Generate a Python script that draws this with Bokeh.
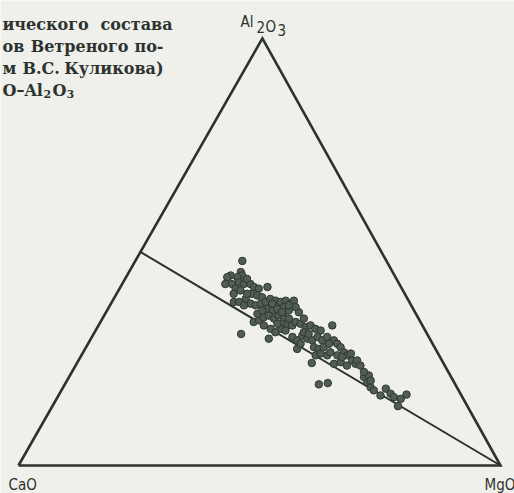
from bokeh.plotting import figure
from bokeh.models import Label, Range1d, ColumnDataSource
from bokeh.embed import file_html
from bokeh.resources import INLINE

# Rock compositions, wt.% (CaO + MgO + Al2O3 = 100)
al2o3 = [47.9, 45.3, 44.5, 44.1, 44.5, 44.1, 42.5, 42.5, 42.9, 42.5,
         41.4, 41.0, 38.3, 38.3, 39.0, 42.5, 41.8, 41.4, 41.8, 40.2,
         39.8, 39.4, 40.2, 37.9, 37.5, 37.9, 38.3, 39.0, 38.6, 38.3,
         38.6, 37.9, 38.6, 35.9, 37.1, 36.7, 36.3, 36.7, 37.1, 36.3,
         33.6, 34.0, 34.7, 35.1, 34.4, 35.1, 34.7, 34.4, 33.2, 32.8,
         32.0, 31.6, 32.8, 33.6, 33.2, 32.4, 32.8, 32.0, 31.6, 30.1,
         29.3, 27.3, 30.4, 29.7, 29.3, 30.1, 29.3, 27.7, 27.3, 27.7,
         25.8, 32.8, 29.3, 28.5, 27.7, 26.5, 25.8, 26.2, 24.6, 23.8,
         24.6, 23.4, 23.8, 24.2, 23.4, 30.8, 29.7, 24.0, 19.0, 19.3,
         20.7, 21.1, 19.5, 18.3, 17.6, 16.4, 18.0, 16.8, 16.0, 15.6,
         16.6, 13.9, 32.0, 31.2, 32.8, 35.5, 36.3, 43.7, 40.2, 37.5,
         37.9, 35.9, 33.2, 31.2, 30.8, 30.1, 28.5, 26.5, 25.8, 25.4,
         21.9, 19.9, 37.5, 34.4, 28.5, 25.8, 26.2]
mgo = [22.2, 23.2, 23.9, 23.1, 21.5, 21.0, 21.4, 22.8, 24.0, 25.2,
       24.1, 25.3, 25.3, 26.4, 27.4, 26.6, 27.7, 28.9, 30.5, 28.1,
       29.4, 30.6, 27.1, 29.0, 30.2, 31.1, 31.9, 32.5, 33.8, 35.0,
       35.9, 37.3, 37.6, 40.0, 38.7, 33.0, 34.3, 35.1, 36.3, 37.7,
       31.8, 32.7, 33.3, 34.2, 35.6, 36.2, 37.5, 38.7, 37.9, 39.2,
       38.2, 39.4, 40.2, 40.5, 41.7, 43.2, 44.0, 45.4, 46.7, 41.6,
       43.0, 44.0, 43.5, 44.9, 46.1, 46.8, 48.2, 47.3, 48.5, 49.3,
       51.0, 48.5, 50.6, 51.7, 52.8, 54.1, 55.2, 55.7, 56.8, 57.9,
       57.8, 59.1, 53.4, 54.6, 56.3, 30.6, 36.9, 48.7, 52.7, 54.4,
       61.2, 62.0, 62.5, 63.8, 64.8, 66.8, 67.1, 68.7, 69.8, 71.4,
       72.1, 71.7, 36.1, 37.5, 34.3, 31.6, 32.2, 25.3, 24.3, 27.8,
       33.5, 36.5, 36.9, 43.4, 44.6, 48.8, 50.0, 51.3, 53.1, 54.3,
       60.6, 63.0, 37.1, 41.8, 44.1, 48.6, 49.4]
cao = [29.9, 31.5, 31.6, 32.8, 34.0, 34.9, 36.1, 34.7, 33.1, 32.3,
       34.5, 33.7, 36.4, 35.3, 33.6, 30.9, 30.5, 29.7, 27.7, 31.7,
       30.8, 30.0, 32.7, 33.1, 32.3, 31.0, 29.8, 28.5, 27.6, 26.7,
       25.5, 24.8, 23.8, 24.1, 24.2, 30.3, 29.4, 28.2, 26.6, 26.0,
       34.6, 33.3, 32.0, 30.7, 30.0, 28.7, 27.8, 26.9, 28.9, 28.0,
       29.8, 29.0, 27.0, 25.9, 25.1, 24.4, 23.2, 22.6, 21.7, 28.3,
       27.7, 28.7, 26.1, 25.4, 24.6, 23.1, 22.5, 25.0, 24.2, 23.0,
       23.2, 18.7, 20.1, 19.8, 19.5, 19.4, 19.0, 18.1, 18.6, 18.3,
       17.6, 17.5, 22.8, 21.2, 20.3, 38.6, 33.4, 27.3, 28.3, 26.3,
       18.1, 16.9, 18.0, 17.9, 17.6, 16.8, 14.9, 14.5, 14.2, 13.0,
       11.3, 14.4, 31.9, 31.3, 32.9, 32.9, 31.5, 31.0, 35.5, 34.7,
       28.6, 27.6, 29.9, 25.4, 24.6, 21.1, 21.5, 22.2, 21.1, 20.3,
       17.5, 17.1, 25.4, 23.8, 27.4, 25.6, 24.4]

# Triangle corners (CaO, MgO, Al2O3) and the CaO·Al2O3 (1:1) – MgO join
corner_cao = [100.0, 0.0, 0.0, 100.0]
corner_mgo = [0.0, 100.0, 0.0, 0.0]
corner_al2o3 = [0.0, 0.0, 100.0, 0.0]
join_cao = [50.0, 0.0]
join_mgo = [0.0, 100.0]
join_al2o3 = [50.0, 0.0]

# Position of the Al2O3 apex in the drawing plane (CaO at 0,0; MgO at 1,0)
APEX_X = 0.506
APEX_Y = 0.886


def to_xy(c_list, m_list, a_list):
    xs, ys = [], []
    for c, m, a in zip(c_list, m_list, a_list):
        s = c + m + a
        xs.append((m + a * APEX_X) / s)
        ys.append(a * APEX_Y / s)
    return xs, ys


W, H = 514, 493
PX = 482.0  # pixels per unit of the base
p = figure(width=W, height=H, output_backend="svg", toolbar_location=None,
           x_range=Range1d(-18 / PX, (W - 18) / PX),
           y_range=Range1d(-(H - 465) / PX, 465 / PX),
           x_axis_type=None, y_axis_type=None, min_border=0,
           background_fill_color="#efefeb", border_fill_color="#efefeb",
           outline_line_color=None)
p.grid.visible = False

ink = "#2c332e"

tx, ty = to_xy(corner_cao, corner_mgo, corner_al2o3)
p.line(tx, ty, line_color=ink, line_width=2.6, line_join="miter")

jx, jy = to_xy(join_cao, join_mgo, join_al2o3)
p.line(jx, jy, line_color=ink, line_width=2.0)

sx, sy = to_xy(cao, mgo, al2o3)
src = ColumnDataSource(dict(x=sx, y=sy))
p.scatter("x", "y", source=src, size=7.5, fill_color="#515c55",
          line_color="#2e3831", line_width=1)

serif = "DejaVu Serif"
narrow = "DejaVu Sans Condensed"


def label(x, y_base_px, text, font, size, align="left", style="normal"):
    p.add_layout(Label(x=x, y=H - y_base_px, x_units="screen", y_units="screen",
                       text=text, text_font=font, text_font_size=size,
                       text_font_style=style,
                       text_color=ink, text_align=align,
                       text_baseline="alphabetic"))


# caption block (upper left), justified word by word
caption = [
    (24, [("ического", 2, "left"), ("состава", 172, "right")]),
    (46, [("ов", 2, "left"), ("Ветреного", 128, "right"), ("по-", 163, "right")]),
    (68, [("м", 2, "left"), ("В.С.", 22, "left"), ("Куликова)", 163, "right")]),
]
for base, words in caption:
    for word, xpos, align in words:
        label(xpos, base, word, serif, "16px", align, "bold")

# last caption line: O–Al2O3 with lowered indices
label(2, 90, "O–Al", serif, "16px", "left", "bold")
label(43, 93, "2", serif, "11px", "left", "bold")
label(52, 90, "O", serif, "16px", "left", "bold")
label(66, 93, "3", serif, "11px", "left", "bold")

# corner labels
label(240, 21, "Al", narrow, "15px")
label(256, 26, "2", narrow, "15px")
label(265, 26, "O", narrow, "15px")
label(277, 29, "3", narrow, "15px")
label(8, 484, "CaO", narrow, "15px")
label(484, 484, "MgO", narrow, "15px")

open("out.html", "w").write(file_html(p, INLINE))
